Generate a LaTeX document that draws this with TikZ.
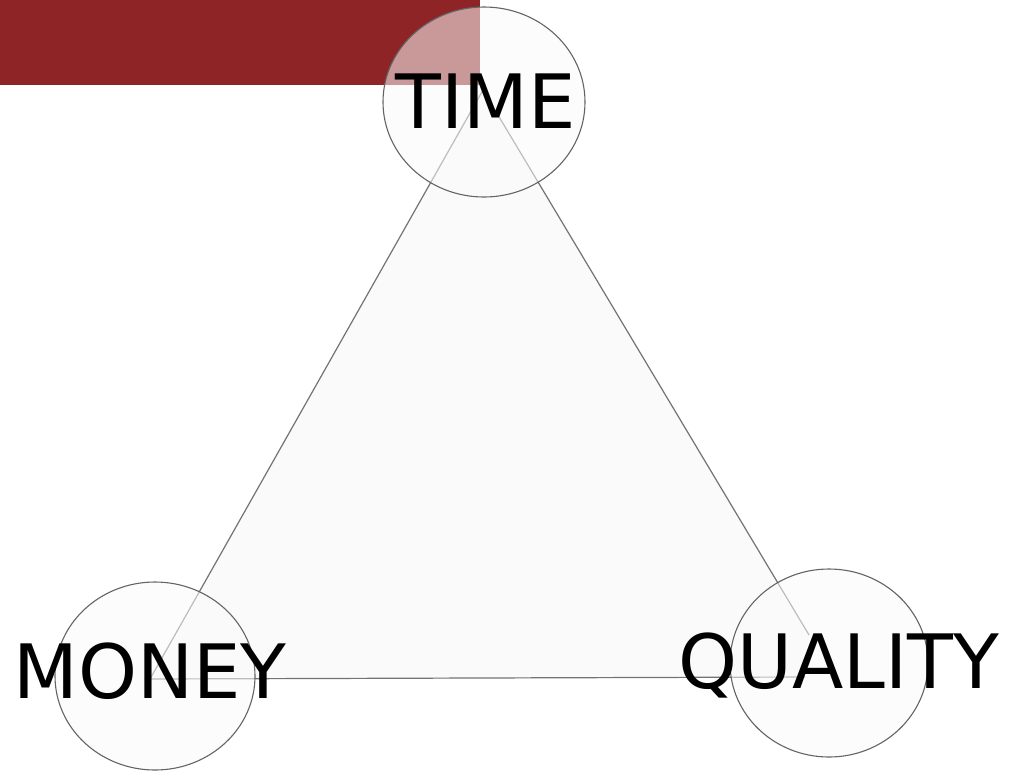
\documentclass[tikz,border=0pt]{standalone}
\usepackage{fontspec}
\setmainfont{DejaVu Sans}
\usetikzlibrary{shapes.geometric}
\definecolor{banner}{RGB}{143,36,38}
\definecolor{trifill}{RGB}{250,250,250}
\definecolor{triline}{RGB}{115,115,115}
\definecolor{ringline}{RGB}{100,100,100}
\tikzset{
  ring/.style={ellipse, draw=ringline, line width=1.1pt, fill=trifill, fill opacity=0.55, draw opacity=1, inner sep=0pt},
  edge/.style={draw=triline, line width=1.2pt},
  label/.style={anchor=base, inner sep=0pt, font=\fontsize{75}{80}\selectfont, text=black}
}
\begin{document}
\begin{tikzpicture}[x=1pt,y=-1pt]
\useasboundingbox (0,0) rectangle (1014,772);
\fill[white] (0,0) rectangle (1014,772);
% banner
\fill[banner] (0,0) rectangle (480,85);
% triangle
\coordinate (apex) at (483,90);
\coordinate (right1) at (809,635);
\coordinate (right2) at (805,677);
\coordinate (left) at (150,679);
\fill[trifill] (apex) -- (right1) -- (right2) -- (left) -- cycle;
\draw[edge] (apex) -- (right1);
\draw[edge] (right2) -- (left);
\draw[edge] (left) -- (apex);
% rings
\node[ring, minimum width=202pt, minimum height=190pt] (time) at (484,102) {};
\node[ring, minimum width=200pt, minimum height=188pt] (money) at (155,676) {};
\node[ring, minimum width=198pt, minimum height=188pt] (quality) at (829,663) {};
% labels
\node[label] (timetext) at (486,128) {TIME};
\node[label] (moneytext) at (150,698) {MONEY};
\node[label] (qualitytext) at (839,688) {QUALITY};
\end{tikzpicture}
\end{document}
